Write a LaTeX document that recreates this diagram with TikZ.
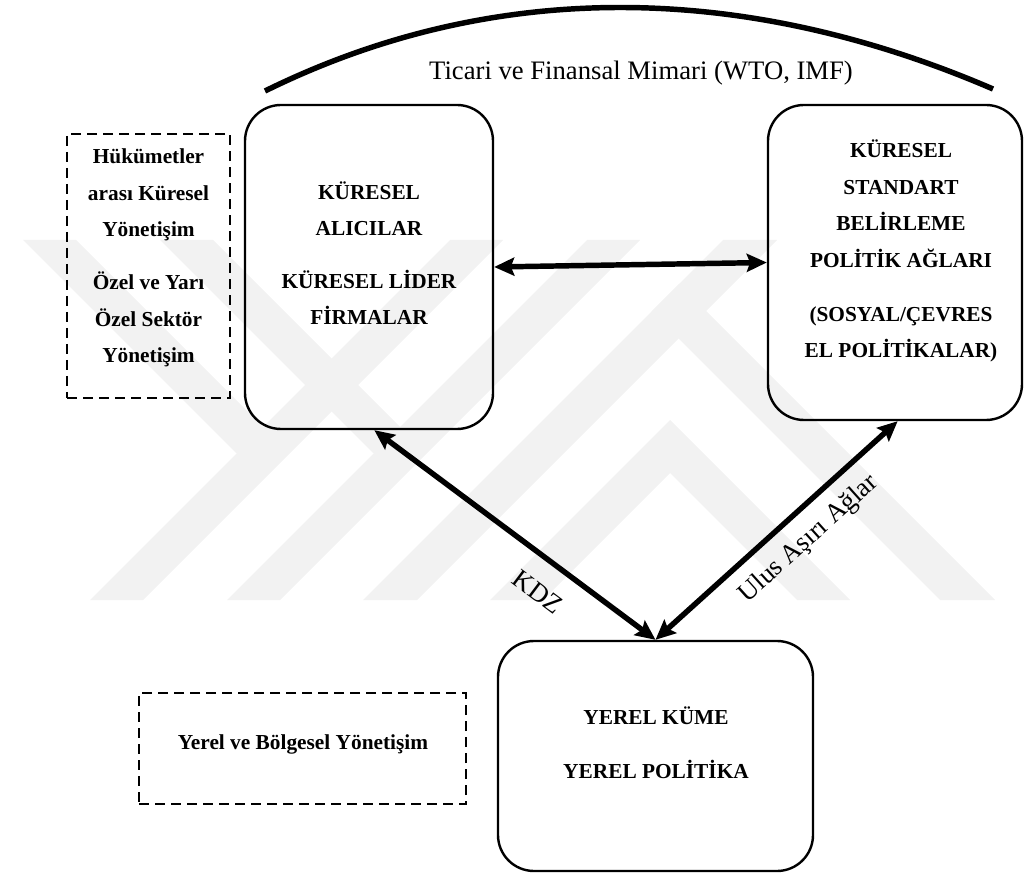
\documentclass[tikz,border=0pt]{standalone}
\usepackage{fontspec}
\setmainfont{Liberation Serif}
\usetikzlibrary{arrows.meta}

\tikzset{
  rbox/.style={draw=black, line width=1.8pt, rounded corners=27pt, inner sep=0pt},
  dbox/.style={draw=black, line width=2.1pt, dash pattern=on 7.5pt off 4.5pt, inner sep=0pt},
  btxt/.style={font=\bfseries\fontsize{16}{27.4}\selectfont, align=center, inner sep=0pt},
  ntxt/.style={font=\fontsize{20}{24}\selectfont, inner sep=0pt},
  link/.style={line width=4.1pt,
    {Stealth[length=15pt,width=13.5pt,inset=2.5pt]}-{Stealth[length=15pt,width=13.5pt,inset=2.5pt]}},
  wm/.style={fill=black!5, draw=none}
}

\begin{document}
\begin{tikzpicture}[x=0.75pt, y=-0.75pt]
\useasboundingbox (0,0) rectangle (1025,873);

% faint background watermark bands
\fill[wm] (23,240) -- (76,240) -- (289.5,453.5) -- (236.5,453.5) -- cycle;
\fill[wm] (90,600) -- (143,600) -- (503,240) -- (450,240) -- cycle;
\fill[wm] (160,240) -- (213,240) -- (426.5,453.5) -- (373.5,453.5) -- cycle;
\fill[wm] (227,600) -- (280,600) -- (640,240) -- (587,240) -- cycle;
\fill[wm] (363,600) -- (417,600) -- (777,240) -- (723,240) -- cycle;
\fill[wm] (651.5,311.5) -- (679,284) -- (995,600) -- (940,600) -- cycle;
\fill[wm] (490,600) -- (670,420) -- (850,600) -- (797,600) -- (670,473) -- (543,600) -- cycle;

% arch over the global level
\coordinate (arcL) at (265,91);
\coordinate (arcR) at (993,89);
\draw[line width=4.1pt] (arcL) .. controls (490,-20) and (740,-20) .. (arcR);
\node[ntxt] (arch) at (641,73) {Ticari ve Finansal Mimari (WTO, IMF)};

% governance boxes
\node[dbox, minimum width=122.25pt, minimum height=198pt] (glob) at (148.5,266) {};
\node[btxt] (glob-t) at (148.5,258) {Hükümetler\\arası Küresel\\Yönetişim\\[12pt]Özel ve Yarı\\Özel Sektör\\Yönetişim};

\node[dbox, minimum width=245.25pt, minimum height=83.25pt] (reg) at (302.5,748.5) {};
\node[btxt] (reg-t) at (303,744) {Yerel ve Bölgesel Yönetişim};

% actor boxes
\node[rbox, minimum width=186pt, minimum height=243pt] (buyers) at (369,267) {};
\node[btxt] (buyers-t) at (369,253) {KÜRESEL\\ALICILAR\\[12pt]KÜRESEL LİDER\\FİRMALAR};

\node[rbox, minimum width=190.5pt, minimum height=236.25pt] (std) at (895,262.5) {};
\node[btxt] (std-t) at (901,251) {KÜRESEL\\STANDART\\BELİRLEME\\POLİTİK AĞLARI\\[13pt](SOSYAL/ÇEVRES\\EL POLİTİKALAR)};

\node[rbox, minimum width=236.25pt, minimum height=172.5pt] (local) at (655.5,756) {};
\node[btxt] (local-t) at (656,743) {YEREL KÜME\\[13pt]YEREL POLİTİKA};

% links
\draw[link] (buyers.east) -- (std.west);
\draw[link] ([xshift=4pt]buyers.south) -- (local.north);
\draw[link] (local.north) -- ([xshift=2pt]std.south);

\node[ntxt, rotate=-37] (kdz) at (538,592) {KDZ};
\node[ntxt, rotate=42] (ulus) at (809,539) {Ulus Aşırı Ağlar};
\end{tikzpicture}
\end{document}
